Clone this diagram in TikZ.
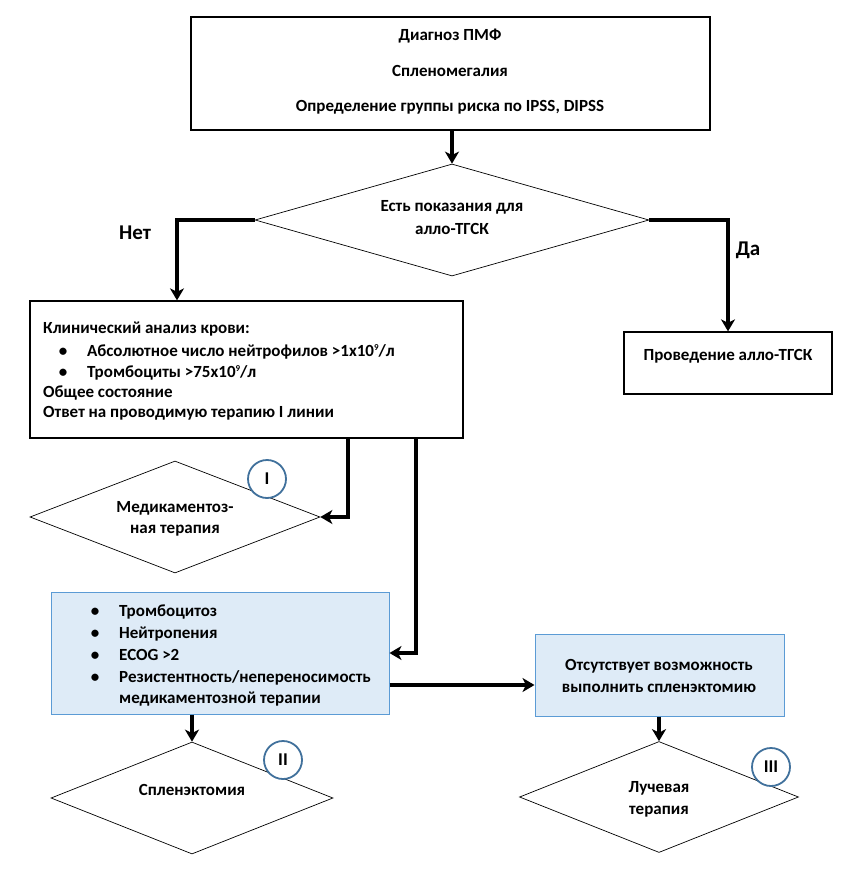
\documentclass[tikz,border=0pt]{standalone}
\usepackage{fontspec}
\setmainfont{Carlito}
\usetikzlibrary{shapes.geometric,arrows.meta}
\definecolor{circblue}{RGB}{65,113,156}
\definecolor{boxfill}{RGB}{222,235,247}
\definecolor{boxline}{RGB}{91,155,213}
\newcommand{\supnine}{\raisebox{5.5pt}{\fontsize{9}{9}\selectfont 9}}
\begin{document}
\begin{tikzpicture}[x=1pt,y=-1pt,
  font=\bfseries\fontsize{17}{19}\selectfont,
  plainbox/.style={draw=black, line width=1.3pt, fill=white, inner sep=0pt},
  bluebox/.style={draw=boxline, line width=1pt, fill=boxfill, inner sep=0pt},
  dia/.style={diamond, draw=black, line width=0.7pt, fill=white, inner sep=0pt},
  conn/.style={line width=3.2pt, -{Stealth[length=12pt,width=14pt,inset=3.5pt]}},
  numc/.style={circle, draw=circblue, line width=1.8pt, fill=white, minimum size=38pt, inner sep=0pt, font=\bfseries\fontsize{18}{20}\selectfont},
  ctext/.style={anchor=base, inner sep=0pt},
  ltext/.style={anchor=base west, inner sep=0pt},
  bul/.style={anchor=base, inner sep=0pt},
  yn/.style={anchor=base, inner sep=0pt, font=\bfseries\fontsize{21}{24}\selectfont}]
\useasboundingbox (0,0) rectangle (858,877);

% top box
\node[plainbox, minimum width=519pt, minimum height=113pt] (top) at (450.5,73.5) {};
\node[ctext] (t1a) at (450,41) {Диагноз ПМФ};
\node[ctext] (t1b) at (450,77) {Спленомегалия};
\node[ctext] (t1c) at (450,112) {Определение группы риска по IPSS, DIPSS};

% decision diamond
\node[dia, minimum width=394pt, minimum height=112pt] (d1) at (452,220) {};
\node[ctext] (d1a) at (452,212) {Есть показания для};
\node[ctext] (d1b) at (452,235) {алло-ТГСК};

% clinical box
\node[plainbox, minimum width=433pt, minimum height=137pt] (box2) at (246.5,369.5) {};
\node[ltext] (b2a) at (43,333) {Клинический анализ крови:};
\node[bul] (b2bb) at (63,356) {\textbullet};
\node[ltext] (b2b) at (87,356) {Абсолютное число нейтрофилов >1x10\supnine/л};
\node[bul] (b2cb) at (63,377) {\textbullet};
\node[ltext] (b2c) at (87,377) {Тромбоциты >75x10\supnine/л};
\node[ltext] (b2d) at (43,397) {Общее состояние};
\node[ltext] (b2e) at (43,417) {Ответ на проводимую терапию I линии};

% allo box
\node[plainbox, minimum width=208pt, minimum height=62pt] (box3) at (728,363) {};
\node[ctext] (b3a) at (728,360) {Проведение алло-ТГСК};

% labels
\node[yn] (net) at (135,240) {Нет};
\node[yn] (da) at (748,255) {Да};

% medication diamond
\node[dia, minimum width=290pt, minimum height=112pt] (d2) at (175,517) {};
\node[ctext] (d2a) at (175,512) {Медикаментоз-};
\node[ctext] (d2b) at (175,533) {ная терапия};
\node[numc] (n1) at (267,479) {I};

% blue box left
\node[bluebox, minimum width=338pt, minimum height=122pt] (box4) at (220,653) {};
\node[bul] (b4ab) at (95,616) {\textbullet};
\node[ltext] (b4a) at (119,616) {Тромбоцитоз};
\node[bul] (b4bb) at (95,638) {\textbullet};
\node[ltext] (b4b) at (119,638) {Нейтропения};
\node[bul] (b4cb) at (95,660) {\textbullet};
\node[ltext] (b4c) at (119,660) {ECOG >2};
\node[bul] (b4db) at (95,682) {\textbullet};
\node[ltext] (b4d) at (119,682) {Резистентность/непереносимость};
\node[ltext] (b4e) at (119,703) {медикаментозной терапии};

% blue box right
\node[bluebox, minimum width=249pt, minimum height=82pt] (box5) at (659.5,675) {};
\node[ctext] (b5a) at (659,670) {Отсутствует возможность};
\node[ctext] (b5b) at (659,692) {выполнить спленэктомию};

% splenectomy diamond
\node[dia, minimum width=282pt, minimum height=112pt] (d4) at (192,798) {};
\node[ctext] (d4a) at (192,795) {Спленэктомия};
\node[numc] (n2) at (283,760) {II};

% radiation diamond
\node[dia, minimum width=279pt, minimum height=111pt] (d5) at (659,797) {};
\node[ctext] (d5a) at (659,792) {Лучевая};
\node[ctext] (d5b) at (659,814) {терапия};
\node[numc] (n3) at (771,767) {III};

% connectors
\coordinate (knet) at (177,220);
\coordinate (kda) at (728,220);
\coordinate (k1) at (348,517);
\coordinate (k2) at (416,653);
\coordinate (k3) at (0,685);
\draw[conn] (d1.north |- top.south) -- (d1.north);
\draw[conn] (d1.west) -- (knet) -- (knet |- box2.north);
\draw[conn] (d1.east) -- (kda) -- (kda |- box3.north);
\draw[conn] (k1 |- box2.south) -- (k1) -- (d2.east);
\draw[conn] (k2 |- box2.south) -- (k2) -- (box4.east);
\draw[conn] (k3 -| box4.east) -- (k3 -| box5.west);
\draw[conn] (d4.north |- box4.south) -- (d4.north);
\draw[conn] (d5.north |- box5.south) -- (d5.north);
\end{tikzpicture}
\end{document}
